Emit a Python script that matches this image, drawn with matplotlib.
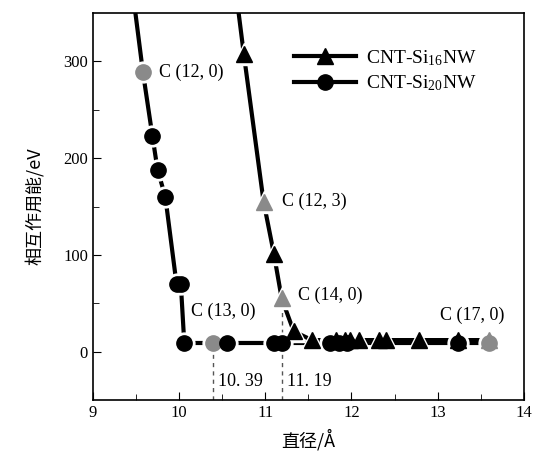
import matplotlib
matplotlib.use("Agg")
import matplotlib.pyplot as plt
from matplotlib.lines import Line2D

plt.rcParams['font.family'] = ['Liberation Serif', 'Noto Sans CJK SC', 'DejaVu Sans']
plt.rcParams['mathtext.fontset'] = 'custom'
plt.rcParams['mathtext.rm'] = 'Liberation Serif'
plt.rcParams['mathtext.it'] = 'Liberation Serif:italic'

# Si16 nanowire (triangles)
si16_x = [10.62, 10.75, 10.98, 11.10, 11.19, 11.33, 11.54, 11.82, 11.92, 11.98, 12.09, 12.32, 12.40, 12.78, 13.24, 13.59]
si16_y = [400, 308, 155, 101, 55, 21, 12, 12, 12, 12, 12, 12, 12, 12, 12, 12]
si16_gray = [10.98, 11.19, 13.59]

# Si20 nanowire (circles)
si20_x = [9.45, 9.58, 9.69, 9.75, 9.84, 9.97, 10.02, 10.06, 10.39, 10.56, 11.10, 11.19, 11.75, 11.85, 11.95, 13.24, 13.59]
si20_y = [380, 289, 223, 188, 160, 70, 70, 9, 9, 9, 9, 9, 9, 9, 9, 9, 9]
si20_gray = [9.58, 10.39, 13.59]

labels = ["C (12, 0)", "C (13, 0)", "C (12, 3)", "C (14, 0)", "C (17, 0)"]
label_xy = [(9.77, 289), (10.14, 42), (11.19, 155), (11.38, 58), (13.03, 38)]
marks = [10.39, 11.19]
mark_y = [9, 55]

fig = plt.figure(figsize=(5.34, 4.62), dpi=100)
ax = fig.add_axes([0.174, 0.134, 0.807, 0.838])

def draw(xs, ys, grays, marker, ms):
    ax.plot(xs, ys, color='black', lw=3.0, zorder=2)
    ax.plot(xs, ys, ls='none', marker=marker, ms=ms + 4, color='white', mec='white', zorder=3)
    cols = ['#8a8a8a' if x in grays else 'black' for x in xs]
    for x, y, c in zip(xs, ys, cols):
        ax.plot([x], [y], ls='none', marker=marker, ms=ms, color=c, mec=c, zorder=4)

draw(si20_x, si20_y, si20_gray, 'o', 11)
draw(si16_x, si16_y, si16_gray, '^', 12)

for (x, y) in zip(marks, mark_y):
    ax.plot([x, x], [-50, y], ls=(0, (3, 3)), color='#555555', lw=1.0, zorder=1)
ax.text(10.45, -31, "10. 39", fontsize=13, va='center', ha='left')
ax.text(11.25, -31, "11. 19", fontsize=13, va='center', ha='left')

for t, (x, y) in zip(labels, label_xy):
    ax.text(x, y, t, fontsize=13, va='center', ha='left')

ax.set_xlim(9, 14)
ax.set_ylim(-50, 350)
ax.set_xticks([9, 10, 11, 12, 13, 14])
ax.set_xticks([9.5, 10.5, 11.5, 12.5, 13.5], minor=True)
ax.set_yticks([0, 100, 200, 300])
ax.set_yticks([50, 150, 250], minor=True)
ax.tick_params(which='both', direction='in', labelsize=12)
ax.tick_params(which='major', length=6)
ax.tick_params(which='minor', length=4)
for s in ax.spines.values():
    s.set_linewidth(1.2)

ax.set_xlabel("直径/Å", fontsize=13, family=['Noto Sans CJK SC'], labelpad=6)
ax.set_ylabel("相互作用能/eV", fontsize=13, family=['Noto Sans CJK SC'], labelpad=14)

h1 = Line2D([], [], color='black', lw=3, marker='^', ms=12)
h2 = Line2D([], [], color='black', lw=3, marker='o', ms=11)
ax.legend([h1, h2], ["CNT-Si$_{16}$NW", "CNT-Si$_{20}$NW"], loc='upper left',
          bbox_to_anchor=(0.425, 0.955), frameon=False, fontsize=14, handlelength=3.2,
          handletextpad=0.5, labelspacing=0.3)

fig.savefig("out.png", dpi=100)
